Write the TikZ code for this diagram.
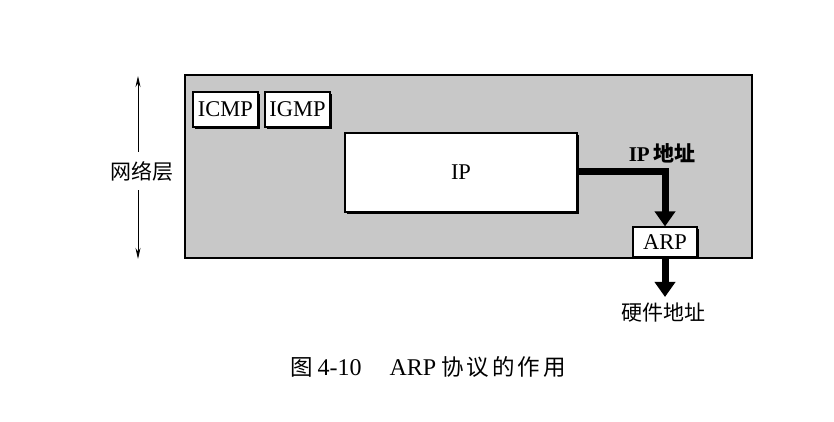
\documentclass[tikz,border=0pt]{standalone}
\usepackage{fontspec}
\setmainfont{Liberation Serif}
\newfontfamily\cjk{Noto Sans CJK SC}
\usetikzlibrary{arrows.meta,shadows}
\definecolor{layergray}{RGB}{200,200,200}
\tikzset{
  protobox/.style={draw=black, line width=1.1pt, fill=white, inner sep=0pt,
    drop shadow={shadow xshift=1.6pt, shadow yshift=-1.6pt, fill=black, opacity=1},
    font=\fontsize{22.5}{22.5}\selectfont},
  fatarrow/.style={line width=7pt, -{Triangle[width=20pt,length=15pt]}},
  thinarrow/.style={line width=0.9pt, -{Stealth[width=5pt,length=11pt]}},
  cjklabel/.style={font=\fontsize{21}{21}\selectfont\cjk, inner sep=0pt}
}
\newcommand{\cs}{\hspace{3pt}}
\begin{document}
\begin{tikzpicture}[x=1pt,y=1pt]
\useasboundingbox (0,0) rectangle (834,422);
\node[draw=black, line width=1.1pt, fill=layergray, minimum width=567pt, minimum height=183pt, inner sep=0pt] (layer) at (468.5,255.5) {};
\node[protobox, minimum width=65pt, minimum height=35pt] (icmp) at (225.5,312.5) {ICMP};
\node[protobox, minimum width=65pt, minimum height=35pt] (igmp) at (297.5,312.5) {IGMP};
\node[protobox, minimum width=232pt, minimum height=79pt] (ip) at (461,249.5) {IP};
\node[protobox, minimum width=64pt, minimum height=30pt] (arp) at (665,180) {ARP};
\coordinate (bend) at (665,250);
\draw[fatarrow] (ip.east |- bend) -- (bend) -- (arp.north);
\coordinate (hwtip) at (665,125);
\draw[fatarrow] (arp.south) -- (hwtip);
\node[font=\fontsize{21}{21}\selectfont\bfseries, inner sep=0pt] (ipaddr) at (662,269) {IP\,{\cjk\bfseries 地址}};
\node[cjklabel] (hwaddr) at (663,109) {硬件地址};
\node[cjklabel, minimum height=38pt] (netlayer) at (142,251) {网络层};
\coordinate (toparr) at (138,346);
\coordinate (botarr) at (138,163);
\draw[thinarrow] (netlayer.north -| toparr) -- (toparr);
\draw[thinarrow] (netlayer.south -| botarr) -- (botarr);
\node[font=\fontsize{24}{24}\selectfont, inner sep=0pt] (caption) at (428,55) {{\fontsize{22.5}{22.5}\selectfont\cjk 图}\hspace{5pt}4-10\hspace{28pt}ARP\hspace{5pt}{\fontsize{22.5}{22.5}\selectfont\cjk 协\cs 议\cs 的\cs 作\cs 用}};
\end{tikzpicture}
\end{document}
